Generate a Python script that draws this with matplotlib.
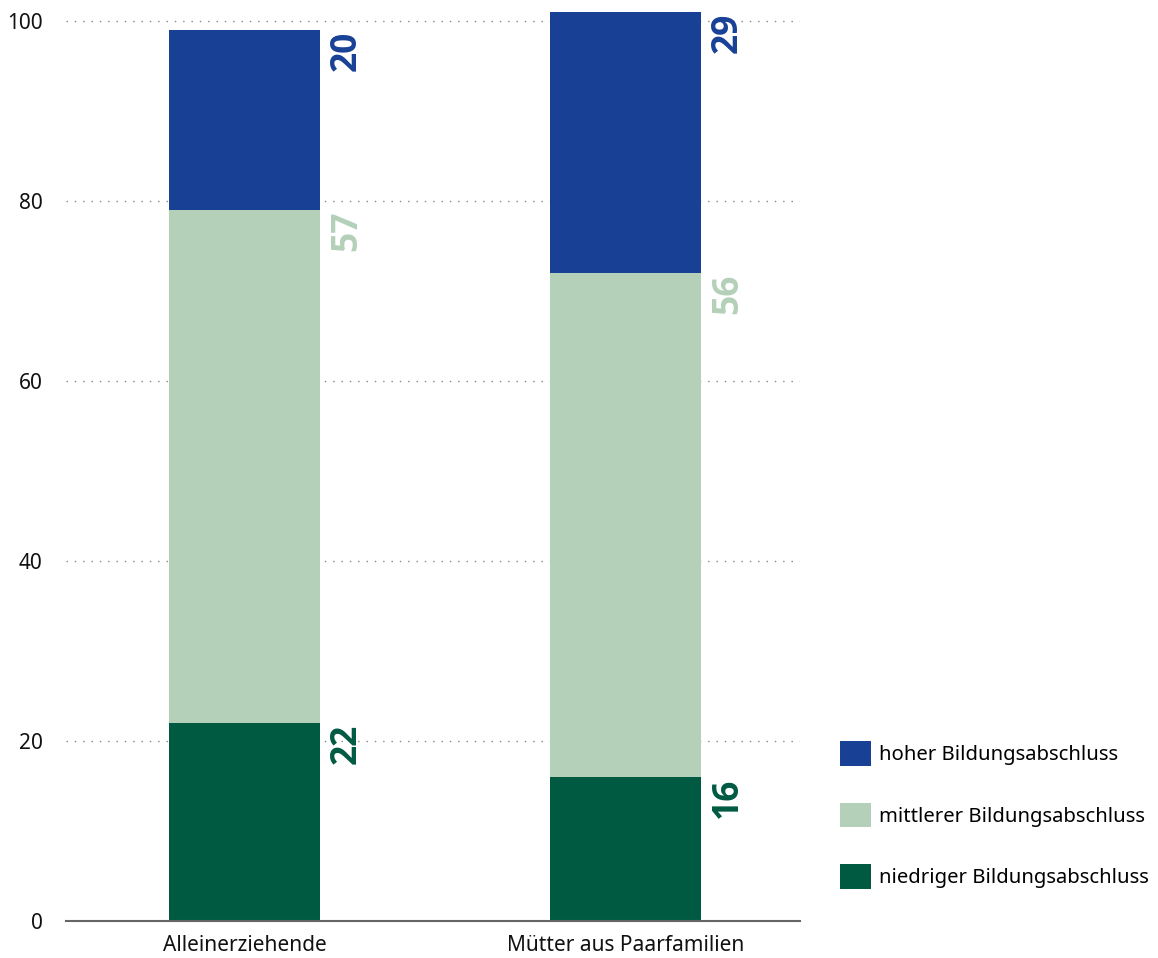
import numpy as np
import matplotlib.pyplot as plt

# Daten (Anteile in %)
categories = ["Alleinerziehende", "Mütter aus Paarfamilien"]
niedrig = [22, 16]
mittel = [57, 56]
hoch = [20, 29]

series = [
    ("niedriger Bildungsabschluss", niedrig, "#005A42"),
    ("mittlerer Bildungsabschluss", mittel, "#B4D0B9"),
    ("hoher Bildungsabschluss", hoch, "#184196"),
]

plt.rcParams["font.family"] = ["Noto Sans", "DejaVu Sans"]

fig = plt.figure(figsize=(11.58, 9.58), dpi=100)
ax = fig.add_axes([0.057, 0.0386, 0.634, 0.9489])

x = np.arange(len(categories))
bottom = np.zeros(len(categories))
handles = {}
for name, vals, col in series:
    vals = np.array(vals, dtype=float)
    b = ax.bar(x, vals, width=0.396, bottom=bottom, color=col, zorder=3, label=name)
    handles[name] = b
    for xi, top, v in zip(x, bottom + vals, vals):
        ax.annotate(str(int(v)), xy=(xi + 0.198, top), xytext=(6.5, -0.5),
                    textcoords="offset points", rotation=90,
                    ha="left", va="top", fontsize=25.5, fontweight="bold",
                    family=["Open Sans", "DejaVu Sans"],
                    color=col, zorder=4)
    bottom = bottom + vals

ax.set_xlim(-0.4685, 1.458)
ax.set_ylim(0, 101)
ax.set_yticks([0, 20, 40, 60, 80, 100])
ax.set_xticks(x)
ax.set_xticklabels(categories)
ax.tick_params(axis="both", length=0, labelsize=15, colors="#111111")
ax.tick_params(axis="y", pad=17)
ax.tick_params(axis="x", pad=10)

ax.yaxis.grid(True, linestyle=(0, (1, 5)), color="#888888", linewidth=1, zorder=0)
for s in ["top", "right", "left"]:
    ax.spines[s].set_visible(False)
ax.spines["bottom"].set_color("#666666")
ax.spines["bottom"].set_linewidth(1.5)
ax.spines["bottom"].set_zorder(5)
# Gitterlinie bei 0 ausblenden
ax.get_ygridlines()[0].set_visible(False)

order = ["hoher Bildungsabschluss", "mittlerer Bildungsabschluss", "niedriger Bildungsabschluss"]
leg = fig.legend([handles[n] for n in order], order,
                 loc="upper left", bbox_to_anchor=(0.7255, 0.2265),
                 frameon=False, fontsize=14.6, handlelength=1.5, handleheight=1.5,
                 handletextpad=0.42, labelspacing=1.82, borderpad=0, borderaxespad=0)

fig.savefig("out.png", dpi=100)
